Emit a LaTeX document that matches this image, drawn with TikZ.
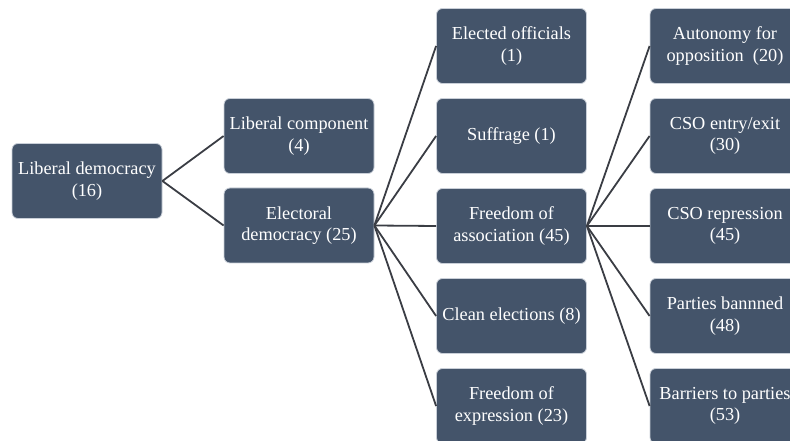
\documentclass[tikz,border=0pt]{standalone}
\usepackage{fontspec}
\setmainfont{Liberation Serif}
\definecolor{boxfill}{HTML}{44546A}
\definecolor{boxedge}{HTML}{C9CFD8}
\definecolor{linecol}{HTML}{3A3D44}
\begin{document}
\begin{tikzpicture}[x=1pt,y=1pt,
  box/.style={rectangle, rounded corners=6pt, fill=boxfill, draw=boxedge, line width=0.8pt,
    minimum width=150pt, minimum height=75pt, inner sep=1pt, align=center,
    text=white, font=\fontsize{18.3}{21.5}\selectfont},
  conn/.style={draw=linecol, line width=1.8pt}]
\useasboundingbox (0,0) rectangle (790,441);
\begin{scope}
\clip (0,0) rectangle (790,441);
% column 1
\node[box] (ld) at (87,260) {Liberal democracy\\(16)};
% column 2
\node[box] (lc) at (299,305) {Liberal component\\(4)};
\node[box] (ed) at (299,215.5) {Electoral\\democracy (25)};
% column 3
\node[box] (eo) at (511.5,395) {Elected officials\\(1)};
\node[box] (su) at (511.5,305) {Suffrage (1)};
\node[box] (fa) at (511.5,215) {Freedom of\\association (45)};
\node[box] (ce) at (511.5,125) {Clean elections (8)};
\node[box] (fe) at (511.5,35) {Freedom of\\expression (23)};
% column 4
\node[box] (ao) at (725,395) {Autonomy for\\opposition~~(20)};
\node[box] (cx) at (725,305) {CSO entry/exit\\(30)};
\node[box] (cr) at (725,215) {CSO repression\\(45)};
\node[box] (pb) at (725,125) {Parties bannned\\(48)};
\node[box] (bp) at (725,35) {Barriers to parties\\(53)};
% connectors
\draw[conn] (ld.east) -- (lc.west);
\draw[conn] (ld.east) -- (ed.west);
\foreach \t in {eo,su,fa,ce,fe} \draw[conn] (ed.east) -- (\t.west);
\foreach \t in {ao,cx,cr,pb,bp} \draw[conn] (fa.east) -- (\t.west);
\end{scope}
\end{tikzpicture}
\end{document}
